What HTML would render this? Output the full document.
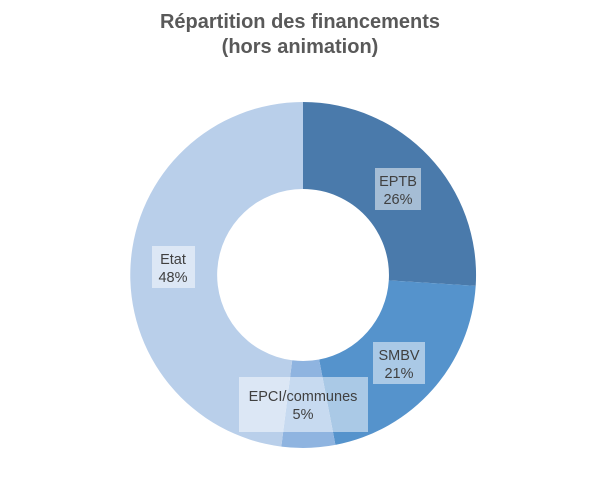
<!DOCTYPE html>
<html><head><meta charset="utf-8"><style>
body{margin:0;background:#fff;width:600px;height:483px;overflow:hidden;font-family:"Liberation Sans",sans-serif}
</style></head><body>
<svg width="600" height="483" xmlns="http://www.w3.org/2000/svg">
<text x="300" y="28" text-anchor="middle" font-size="20" font-weight="bold" fill="#595959">Répartition des financements</text>
<text x="300" y="53" text-anchor="middle" font-size="20" font-weight="bold" fill="#595959">(hors animation)</text>
<path d="M303,102 A173,173 0 0 1 475.7,285.9 L388.8,280.4 A86,86 0 0 0 303,189 Z" fill="#4a7aab"/>
<path d="M475.7,285.9 A173,173 0 0 1 335.4,444.9 L319.1,359.5 A86,86 0 0 0 388.8,280.4 Z" fill="#5593cc"/>
<path d="M335.4,444.9 A173,173 0 0 1 281.3,446.6 L292.2,360.3 A86,86 0 0 0 319.1,359.5 Z" fill="#8fb4e0"/>
<path d="M281.3,446.6 A173,173 0 0 1 303,102 L303,189 A86,86 0 0 0 292.2,360.3 Z" fill="#b9cfea"/>
<g font-size="14.5" fill="#404040" text-anchor="middle">
<rect x="375" y="168" width="46" height="42" fill="#fff" fill-opacity="0.5"/>
<text x="398" y="186">EPTB</text><text x="398" y="204">26%</text>
<rect x="373" y="342" width="52" height="42" fill="#fff" fill-opacity="0.5"/>
<text x="399" y="360">SMBV</text><text x="399" y="378">21%</text>
<rect x="239" y="377" width="129" height="55" fill="#fff" fill-opacity="0.5"/>
<text x="303" y="401">EPCI/communes</text><text x="303" y="419">5%</text>
<rect x="152" y="246" width="43" height="42" fill="#fff" fill-opacity="0.5"/>
<text x="173" y="264">Etat</text><text x="173" y="282">48%</text>
</g>
</svg>
</body></html>
